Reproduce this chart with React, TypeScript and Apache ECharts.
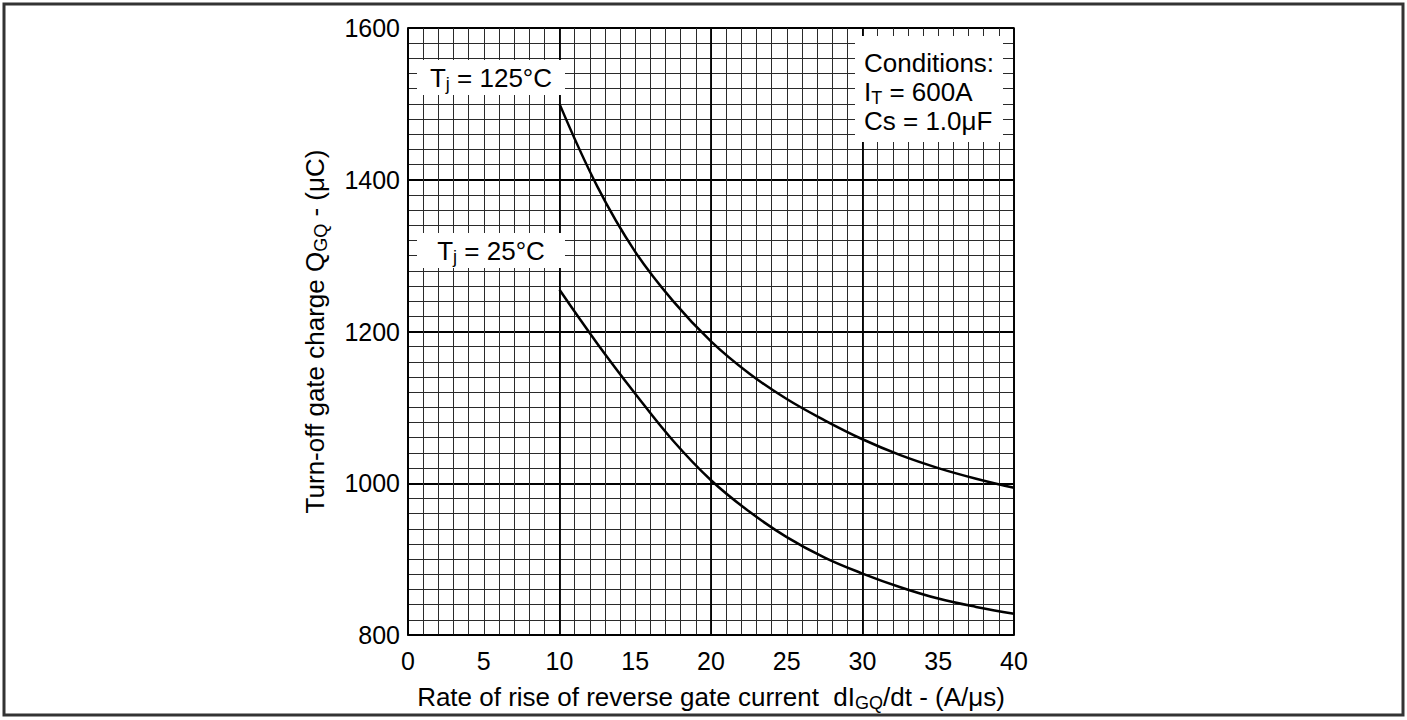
import React, { useEffect, useRef } from "react";
import * as echarts from "echarts";

const rateValues = [10, 12.5, 15, 17.5, 20, 22.5, 25, 27.5, 30, 32.5, 35, 37.5, 40];
const charge125 = [1500, 1391, 1305, 1240, 1187, 1145, 1111, 1083, 1058, 1037, 1020, 1006, 994];
const charge25 = [1255, 1184, 1118, 1056, 1004, 963, 929, 902, 881, 863, 848, 837, 828];
const xTickInterval = 5;
const yTickInterval = 200;
const conditionLines = ["{n|Conditions:}", "{n|I}{s|T}{n| = 600A}", "{n|Cs = 1.0\u03bcF}"];

const FONT = "'Liberation Sans', Arial, Helvetica, sans-serif";

export default function App() {
  const ref = useRef<HTMLDivElement>(null);
  useEffect(() => {
    if (!ref.current) return;
    const chart = echarts.init(ref.current, null, { renderer: "svg" });
    const rich = {
      n: { fontSize: 26, fontFamily: FONT, color: "#000", lineHeight: 30 },
      s: { fontSize: 18, fontFamily: FONT, color: "#000", lineHeight: 10, verticalAlign: "bottom" },
    };
    const label = (x: number, y: number, w: number, h: number, text: string) => ({
      type: "group",
      children: [
        { type: "rect", shape: { x, y, width: w, height: h }, style: { fill: "#fff" }, z: 10 },
        {
          type: "text",
          x: x + w / 2,
          y: y + h / 2,
          z: 11,
          style: { text, rich, align: "center", verticalAlign: "middle", fill: "#000" },
        },
      ],
    });
    chart.setOption({
      animation: false,
      backgroundColor: "#fff",
      textStyle: { fontFamily: FONT, color: "#000" },
      grid: { left: 408, top: 28, width: 606, height: 607, show: true, borderColor: "#000", borderWidth: 1.5, backgroundColor: "#fff" },
      xAxis: [
        {
          type: "value",
          min: 0,
          max: 40,
          interval: xTickInterval,
          position: "bottom",
          axisLine: { show: true, lineStyle: { color: "#000", width: 1.5 } },
          axisTick: { show: false },
          axisLabel: { fontSize: 25, color: "#000", fontFamily: FONT, margin: 13, formatter: (v: number) => String(v) },
          splitLine: { show: true, lineStyle: { color: "#2a2a2a", width: 1 } },
          minorTick: { show: false, splitNumber: 5 },
          minorSplitLine: { show: true, lineStyle: { color: "#2a2a2a", width: 1 } },
          name: "{n|Rate of rise of reverse gate current  dI}{s|GQ}{n|/dt - (A/\u03bcs)}",
          nameLocation: "middle",
          nameGap: 47,
          nameTextStyle: { fontSize: 26, color: "#000", fontFamily: FONT, rich },
        },
        {
          type: "value",
          min: 0,
          max: 40,
          interval: 10,
          position: "top",
          z: 1,
          axisLine: { show: false },
          axisTick: { show: false },
          axisLabel: { show: false },
          splitLine: { show: true, lineStyle: { color: "#000", width: 1.8 } },
        },
      ],
      yAxis: {
        type: "value",
        min: 800,
        max: 1600,
        interval: yTickInterval,
        axisLine: { show: true, lineStyle: { color: "#000", width: 1.5 } },
        axisTick: { show: false },
        axisLabel: { fontSize: 25, color: "#000", fontFamily: FONT, margin: 8, formatter: (v: number) => String(v) },
        splitLine: { show: true, lineStyle: { color: "#000", width: 1.8 } },
        minorTick: { show: false, splitNumber: 10 },
        minorSplitLine: { show: true, lineStyle: { color: "#2a2a2a", width: 1 } },
        name: "{n|Turn-off gate charge Q}{s|GQ}{n| - (\u03bcC)}",
        nameLocation: "middle",
        nameGap: 78,
        nameTextStyle: { fontSize: 26, color: "#000", fontFamily: FONT, rich },
      },
      series: [
        {
          type: "line",
          name: "Tj = 125°C",
          data: rateValues.map((x, i) => [x, charge125[i]]),
          smooth: 0.4,
          symbol: "none",
          z: 5,
          lineStyle: { color: "#000", width: 2.5 },
        },
        {
          type: "line",
          name: "Tj = 25°C",
          data: rateValues.map((x, i) => [x, charge25[i]]),
          smooth: 0.4,
          symbol: "none",
          z: 5,
          lineStyle: { color: "#000", width: 2.5 },
        },
      ],
      graphic: [
        {
          type: "rect",
          shape: { x: 4, y: 4, width: 1399, height: 711 },
          style: { fill: "none", stroke: "#333", lineWidth: 3 },
          z: 20,
        },
        label(417, 60, 148, 35, "{n|T}{s|j}{n| = 125°C}"),
        label(417, 233, 148, 35, "{n|T}{s|j}{n| = 25°C}"),
        {
          type: "group",
          children: [
            { type: "rect", shape: { x: 855, y: 36, width: 148, height: 106 }, style: { fill: "#fff" }, z: 10 },
            ...conditionLines.map((t, i) => ({
              type: "text",
              x: 864,
              y: 63 + i * 29,
              z: 11,
              style: { text: t, rich, align: "left", verticalAlign: "middle", fill: "#000" },
            })),
          ],
        },
      ],
    });
    return () => chart.dispose();
  }, []);
  return <div ref={ref} style={{ position: "fixed", left: 0, top: 0, width: "1407px", height: "720px" }} />;
}
